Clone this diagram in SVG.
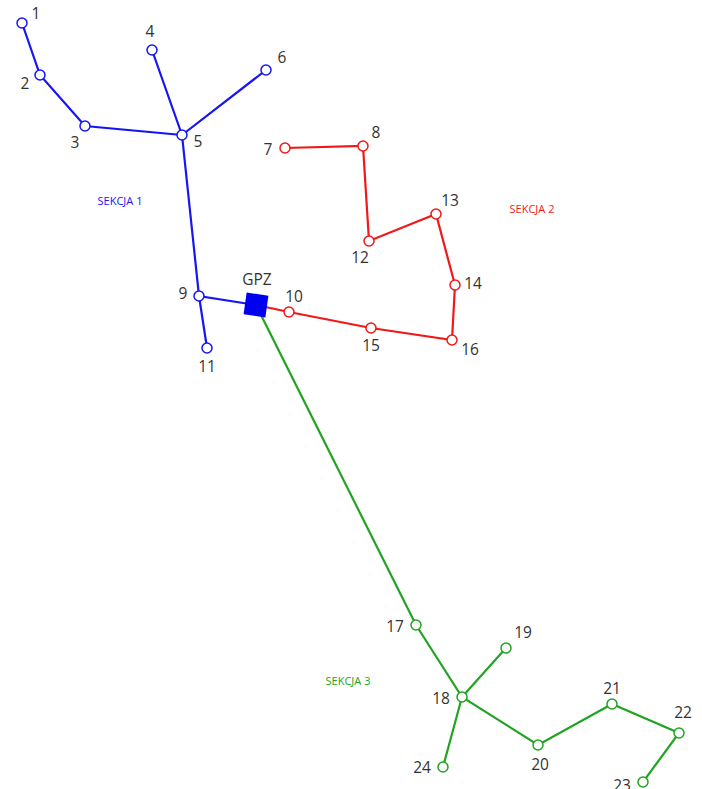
<svg xmlns="http://www.w3.org/2000/svg" width="702" height="789" viewBox="0 0 702 789">
<style>
.b{stroke:#1515f5}.r{stroke:#f01818}.g{stroke:#22a322}
.e{fill:none;stroke-width:2.2;stroke-linecap:round}
.n{fill:#fff;stroke-width:1.5}
.l{font-family:"Open Sans","Liberation Sans",sans-serif;font-size:15.5px;fill:#333;text-anchor:middle;dominant-baseline:central}
.s{font-family:"Open Sans","Liberation Sans",sans-serif;font-size:11px;text-anchor:middle;dominant-baseline:central}
</style>
<rect width="702" height="789" fill="#fff"/>
<g id="connectors">
<polyline class="e b" points="22,23 40,75 85,126 182,135"/>
<line class="e b" x1="152" y1="50" x2="182" y2="135"/>
<line class="e b" x1="266" y1="70" x2="182" y2="135"/>
<polyline class="e b" points="182,135 199,296 256,305"/>
<line class="e b" x1="199" y1="296" x2="207" y2="348"/>
<polyline class="e r" points="285,148 363,146 369,241 436,214 455,285 452,340 371,328 289,312 256,305"/>
<polyline class="e g" points="256,305 416,625 462,697 538,745 612,704 679,733 643,782"/>
<line class="e g" x1="462" y1="697" x2="506" y2="648"/>
<line class="e g" x1="462" y1="697" x2="443" y2="767"/>
</g>
<g id="GPZ"><rect x="245" y="294" width="22" height="22" fill="#0000f0" transform="rotate(8 256 305)"/><text class="l" x="257" y="278.5">GPZ</text></g>
<g transform="translate(0,-1.5)">
<g id="n1"><circle class="n b" cx="22" cy="24.5" r="5"/><text class="l" x="36" y="14">1</text></g>
<g id="n2"><circle class="n b" cx="40" cy="76.5" r="5"/><text class="l" x="25" y="84">2</text></g>
<g id="n3"><circle class="n b" cx="85" cy="127.5" r="5"/><text class="l" x="75" y="143">3</text></g>
<g id="n4"><circle class="n b" cx="152" cy="51.5" r="5"/><text class="l" x="150" y="32">4</text></g>
<g id="n5"><circle class="n b" cx="182" cy="136.5" r="5"/><text class="l" x="198" y="142">5</text></g>
<g id="n6"><circle class="n b" cx="266" cy="71.5" r="5"/><text class="l" x="282" y="58">6</text></g>
<g id="n7"><circle class="n r" cx="285" cy="149.5" r="5"/><text class="l" x="268" y="150">7</text></g>
<g id="n8"><circle class="n r" cx="363" cy="147.5" r="5"/><text class="l" x="376" y="133">8</text></g>
<g id="n9"><circle class="n b" cx="199" cy="297.5" r="5"/><text class="l" x="183" y="294">9</text></g>
<g id="n10"><circle class="n r" cx="289" cy="313.5" r="5"/><text class="l" x="294" y="297">10</text></g>
<g id="n11"><circle class="n b" cx="207" cy="349.5" r="5"/><text class="l" x="207" y="367">11</text></g>
<g id="n12"><circle class="n r" cx="369" cy="242.5" r="5"/><text class="l" x="360" y="258">12</text></g>
<g id="n13"><circle class="n r" cx="436" cy="215.5" r="5"/><text class="l" x="450" y="201">13</text></g>
<g id="n14"><circle class="n r" cx="455" cy="286.5" r="5"/><text class="l" x="473" y="284">14</text></g>
<g id="n15"><circle class="n r" cx="371" cy="329.5" r="5"/><text class="l" x="371" y="346">15</text></g>
<g id="n16"><circle class="n r" cx="452" cy="341.5" r="5"/><text class="l" x="470" y="350">16</text></g>
<g id="n17"><circle class="n g" cx="416" cy="626.5" r="5"/><text class="l" x="395" y="627">17</text></g>
<g id="n18"><circle class="n g" cx="462" cy="698.5" r="5"/><text class="l" x="441" y="699">18</text></g>
<g id="n19"><circle class="n g" cx="506" cy="649.5" r="5"/><text class="l" x="523" y="633">19</text></g>
<g id="n20"><circle class="n g" cx="538" cy="746.5" r="5"/><text class="l" x="540" y="765">20</text></g>
<g id="n21"><circle class="n g" cx="612" cy="705.5" r="5"/><text class="l" x="612" y="689">21</text></g>
<g id="n22"><circle class="n g" cx="679" cy="734.5" r="5"/><text class="l" x="683" y="713">22</text></g>
<g id="n23"><circle class="n g" cx="643" cy="783.5" r="5"/><text class="l" x="622" y="786">23</text></g>
<g id="n24"><circle class="n g" cx="443" cy="768.5" r="5"/><text class="l" x="422" y="768">24</text></g>
<text class="s" x="120" y="202" fill="#1515f5">SEKCJA 1</text>
<text class="s" x="532" y="210" fill="#f01818">SEKCJA 2</text>
<text class="s" x="348" y="682" fill="#22a322">SEKCJA 3</text>
</g>
</svg>
